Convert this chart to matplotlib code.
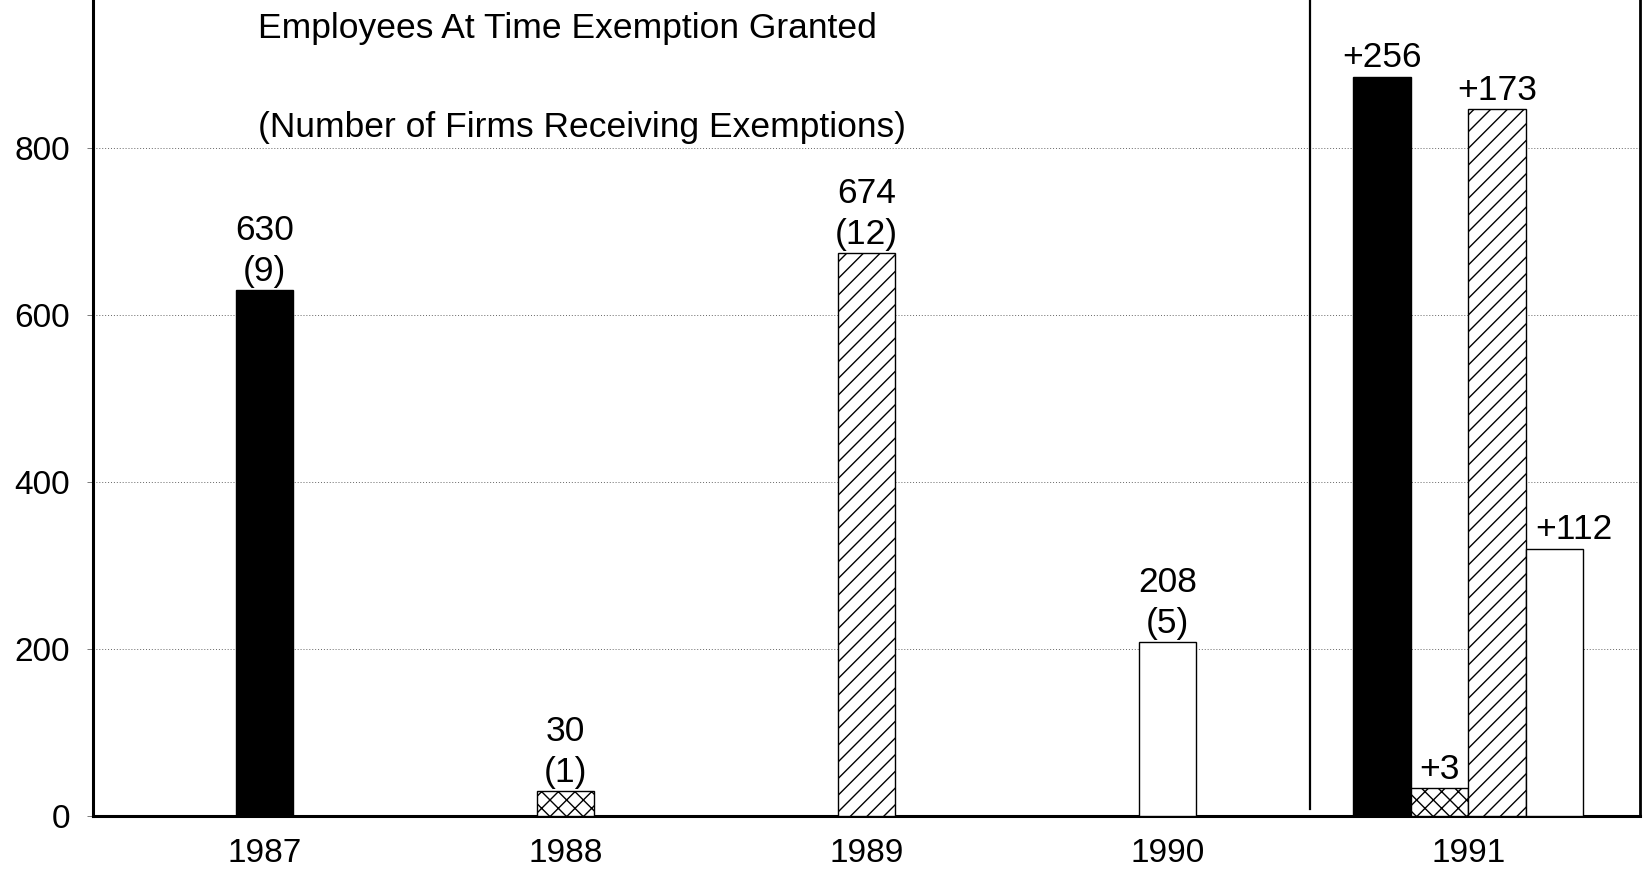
import matplotlib
matplotlib.use("Agg")
import matplotlib.pyplot as plt

plt.rcParams['font.family'] = ['Liberation Sans', 'DejaVu Sans']
plt.rcParams['hatch.linewidth'] = 1.0

# Exemptions granted per year: employees and (number of firms)
years = ["1987", "1988", "1989", "1990"]
employees = [630, 30, 674, 208]
firms = [9, 1, 12, 5]

# 1991: additions on top of each earlier year's total
added_1991 = [256, 3, 173, 112]

fills = ["black", "white", "white", "white"]
hatches = [None, "xx", "//", None]

title_lines = ["Employees At Time Exemption Granted",
               "(Number of Firms Receiving Exemptions)"]

W, H = 1648, 873
fig = plt.figure(figsize=(W / 100, H / 100), dpi=100)
ax = fig.add_axes([93 / W, 57 / H, (1640 - 93) / W, 816 / H])

width = 0.191
fs = 25.5

for i, (emp, n) in enumerate(zip(employees, firms)):
    ax.bar(i, emp, width=width, color=fills[i], edgecolor="black",
           linewidth=1.0, hatch=hatches[i], zorder=3)
    ax.annotate(f"({n})", (i, emp), xytext=(0, 1.5), textcoords="offset points",
                ha="center", va="bottom", fontsize=fs)
    ax.annotate(f"{emp}", (i, emp), xytext=(0, 31), textcoords="offset points",
                ha="center", va="bottom", fontsize=fs)

# 1991 group: cumulative totals, bars side by side
group_center = 4.0
for j, (base, add) in enumerate(zip(employees, added_1991)):
    x = group_center + (j - 1.5) * width
    total = base + add
    ax.bar(x, total, width=width, color=fills[j], edgecolor="black",
           linewidth=1.0, hatch=hatches[j], zorder=3)
    if j == len(added_1991) - 1:
        # last label is nudged right so it clears the neighbouring bar
        ax.annotate(f"+{add}", (x - width / 2, total), xytext=(7, 2),
                    textcoords="offset points", ha="left", va="bottom", fontsize=fs)
    else:
        ax.annotate(f"+{add}", (x, total), xytext=(0, 1.5), textcoords="offset points",
                    ha="center", va="bottom", fontsize=fs)

ax.axvline(3.473, ymin=0.008, ymax=1, color="black", linewidth=1.6, zorder=4)

ax.text(-0.022, 944, title_lines[0], ha="left", va="center", fontsize=fs)
ax.text(-0.022, 825, title_lines[1], ha="left", va="center", fontsize=fs)

ax.set_xlim(-0.570, 4.570)
ax.set_ylim(0, 977.7)
ax.set_xticks(range(5))
ax.set_xticklabels(years + ["1991"], fontsize=24)
ax.set_yticks([0, 200, 400, 600, 800])
ax.set_yticklabels(["0", "200", "400", "600", "800"], fontsize=24)
ax.tick_params(axis="x", length=0, pad=16)
ax.tick_params(axis="y", length=4, width=0.6, color="#666666", pad=12.5)

ax.yaxis.grid(True, linestyle=(0, (1, 2)), color="#666666", linewidth=0.7, zorder=0)
ax.set_axisbelow(True)

ax.spines["top"].set_visible(False)
for side in ["left", "bottom"]:
    ax.spines[side].set_linewidth(2.2)
ax.spines["right"].set_linewidth(2.0)

fig.savefig("out.png", dpi=100)
